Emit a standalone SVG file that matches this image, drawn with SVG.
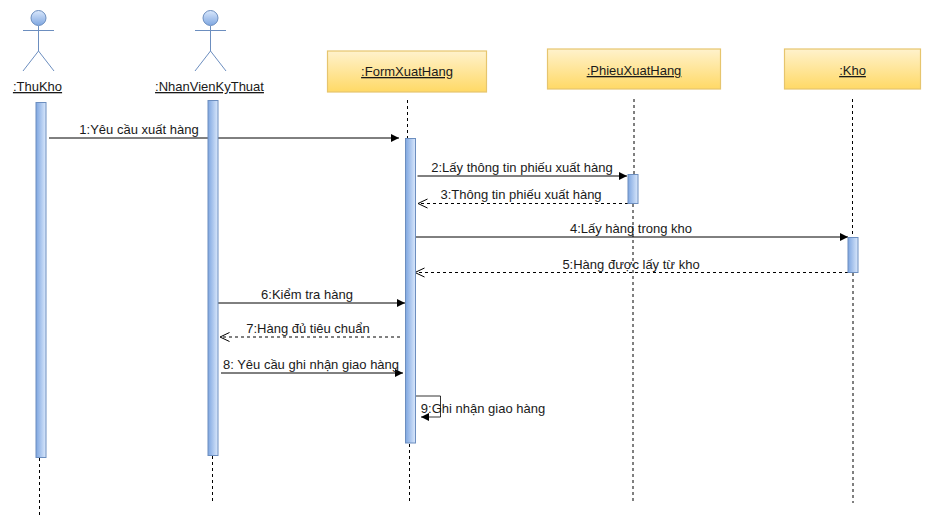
<svg xmlns="http://www.w3.org/2000/svg" width="949" height="529" viewBox="0 0 949 529">
<style>
text{font-family:"Liberation Sans",Arial,sans-serif;font-size:13px;fill:#1a1a1a}
.u{text-decoration:underline;text-anchor:middle}
.m{text-anchor:middle}
.box{fill:url(#y);stroke:#e6c56e;stroke-width:1.2}
.act{fill:url(#b);stroke:#6c8ebf;stroke-width:1}
.life{stroke:#000;stroke-width:1;stroke-dasharray:3 3;fill:none}
.msg{stroke:#000;stroke-width:1;fill:none;marker-end:url(#solid)}
.ret{stroke:#000;stroke-width:1;stroke-dasharray:3 3;fill:none;marker-end:url(#open)}
.limb{stroke:#6c8ebf;stroke-width:1;fill:none}
.head{fill:url(#h);stroke:#6c8ebf;stroke-width:1}
</style>
<defs>
<linearGradient id="y" x1="0" y1="0" x2="0" y2="1"><stop offset="0" stop-color="#fff2cc"/><stop offset="1" stop-color="#ffd966"/></linearGradient>
<linearGradient id="b" x1="0" y1="0" x2="1" y2="0"><stop offset="0" stop-color="#7ea6e0"/><stop offset="1" stop-color="#dae8fc"/></linearGradient>
<linearGradient id="h" x1="0" y1="0" x2="0" y2="1"><stop offset="0" stop-color="#dae8fc"/><stop offset="1" stop-color="#7ea6e0"/></linearGradient>
<marker id="solid" markerUnits="userSpaceOnUse" markerWidth="9" markerHeight="9" refX="8" refY="4" orient="auto"><path d="M0 0L8 4L0 8Z" fill="#000"/></marker>
<marker id="open" markerUnits="userSpaceOnUse" markerWidth="11" markerHeight="11" refX="9.5" refY="5" orient="auto"><path d="M0 0.5L9.5 5L0 9.5" fill="none" stroke="#000"/></marker>
</defs>
<g id="lifelines">
<path class="life" d="M39.500 458V516"/>
<path class="life" d="M212.500 456V503"/>
<path class="life" d="M407.500 100V138"/>
<path class="life" d="M409.500 444V503"/>
<path class="life" d="M634 99V174"/>
<path class="life" d="M633 204V503"/>
<path class="life" d="M852.500 99V237"/>
<path class="life" d="M853 273V503"/>
</g>
<g id="connectors">
<path class="msg" d="M49 138H399"/>
<path class="msg" d="M417.500 176H627"/>
<path class="ret" d="M628 203.500H418"/>
<path class="msg" d="M415 237H848"/>
<path class="ret" d="M848 272.500H415"/>
<path class="msg" d="M218 303H405"/>
<path class="ret" d="M400 337H220"/>
<path class="msg" d="M221 373H403"/>
<path class="msg" style="stroke-width:.8" d="M414 396H440.500V417H421"/>
</g>
<g id="thukho">
<circle class="head" cx="38.500" cy="18" r="7.500"/>
<path class="limb" d="M23 30.500H54M38.500 26V51L23 71M38.500 51L54 71"/>
<text class="u" x="37.500" y="91">:ThuKho</text>
<rect class="act" x="36" y="102.500" width="10" height="355"/>
</g>
<g id="nhanvienkythuat">
<circle class="head" cx="210.500" cy="18" r="7.500"/>
<path class="limb" d="M195 30.500H226M210.500 26V51L195 71M210.500 51L226 71"/>
<text class="u" x="209.500" y="91">:NhanVienKyThuat</text>
<rect class="act" x="208" y="100.500" width="10" height="355"/>
</g>
<g id="formxuathang">
<rect class="box" x="327.500" y="51" width="159" height="41"/>
<text class="u" x="407" y="76">:FormXuatHang</text>
<rect class="act" x="405.500" y="138.500" width="10" height="304.500"/>
</g>
<g id="phieuxuathang">
<rect class="box" x="547.500" y="49" width="173" height="40"/>
<text class="u" x="634" y="75">:PhieuXuatHang</text>
<rect class="act" x="628" y="174.500" width="10" height="29"/>
</g>
<g id="kho">
<rect class="box" x="784.500" y="49" width="136" height="40"/>
<text class="u" x="852.500" y="75">:Kho</text>
<rect class="act" x="848" y="237.500" width="10" height="35"/>
</g>
<g id="labels">
<text class="m" x="139" y="134">1:Yêu cầu xuất hàng</text>
<text class="m" x="522" y="172">2:Lấy thông tin phiếu xuất hàng</text>
<text class="m" x="521" y="199">3:Thông tin phiếu xuất hàng</text>
<text class="m" x="631" y="233">4:Lấy hàng trong kho</text>
<text class="m" x="631" y="269">5:Hàng được lấy từ kho</text>
<text class="m" x="307" y="299">6:Kiểm tra hàng</text>
<text class="m" x="308" y="333">7:Hàng đủ tiêu chuẩn</text>
<text class="m" x="311" y="369">8: Yêu cầu ghi nhận giao hàng</text>
<text class="m" x="483" y="413">9:Ghi nhận giao hàng</text>
</g>
</svg>
